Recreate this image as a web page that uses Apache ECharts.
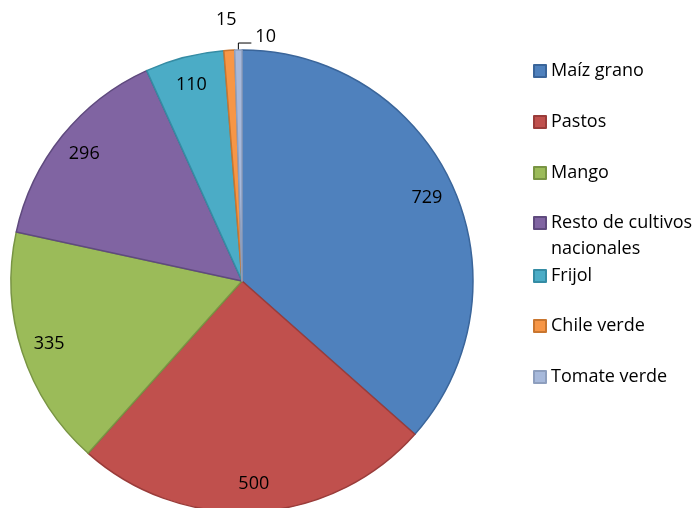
<!DOCTYPE html>
<html>
<head>
<meta charset="utf-8">
<script src="https://cdn.jsdelivr.net/npm/echarts@6/dist/echarts.min.js"></script>
<style>
  html, body { margin: 0; padding: 0; background: #fff; }
  #pie { width: 696px; height: 508px; }
</style>
</head>
<body>
<div id="pie"></div>
<script>
// datos del gráfico
const categories = ['Maíz grano', 'Pastos', 'Mango', 'Resto de cultivos nacionales', 'Frijol', 'Chile verde', 'Tomate verde'];
const values = [729, 500, 335, 296, 110, 15, 10];

// colores de relleno y borde de cada rebanada
const fills = ['#4F81BD', '#C0504D', '#9BBB59', '#8064A2', '#4BACC6', '#F79646', '#A7B9DB'];
const edges = ['#3A659A', '#9A3C3A', '#789443', '#5F4A7E', '#358CA4', '#C9762F', '#8E9FBE'];

// centro vertical de cada entrada de la leyenda
const legendCenters = [71, 122, 173, 223, 276, 326, 377];

const font = '"Open Sans", "Noto Sans", sans-serif';
const cx = 242, cy = 281, r = 231;

const chart = echarts.init(document.getElementById('pie'));

const legends = categories.map(function (name, i) {
  const twoLines = name.indexOf('Resto') === 0;
  return {
    data: [name],
    orient: 'vertical',
    left: 533,
    top: twoLines ? legendCenters[i] - 39 : legendCenters[i] - 13,
    padding: 0,
    icon: 'rect',
    itemWidth: 12,
    itemHeight: 12,
    itemGap: 0,
    selectedMode: false,
    // línea vacía arriba para que el icono quede junto a la primera línea
    formatter: function (n) { return n === 'Resto de cultivos nacionales' ? ' \nResto de cultivos\nnacionales' : n; },
    textStyle: {
      color: '#000',
      fontFamily: font,
      fontSize: 18,
      lineHeight: 26
    }
  };
});

const option = {
  animation: false,
  legend: legends,
  series: [
    {
      type: 'pie',
      center: [cx, cy],
      radius: r,
      startAngle: 90,
      clockwise: true,
      silent: true,
      label: { show: false },
      labelLine: { show: false },
      data: categories.map(function (name, i) {
        return {
          name: name,
          value: values[i],
          itemStyle: { color: fills[i], borderColor: edges[i], borderWidth: 1.5 }
        };
      })
    },
    {
      // anillo transparente solo para colocar las etiquetas cerca del borde
      type: 'pie',
      center: [cx, cy],
      radius: [r * 0.73, r],
      startAngle: 90,
      clockwise: true,
      silent: true,
      legendHoverLink: false,
      itemStyle: { color: 'rgba(0,0,0,0)', borderWidth: 0 },
      label: {
        show: true,
        position: 'inside',
        formatter: '{c}',
        color: '#000',
        fontFamily: font,
        fontSize: 18
      },
      labelLine: { show: false },
      labelLayout: function (p) {
        const pts = p.labelLinePoints;
        if (!pts) return {};
        const a = pts[0];
        if (p.dataIndex === 5) {
          return { x: a[0] - 3, y: a[1] - 30, align: 'center', verticalAlign: 'middle' };
        }
        if (p.dataIndex === 6) {
          return {
            x: a[0] + 17, y: a[1] - 13, align: 'left', verticalAlign: 'middle',
            labelLinePoints: [a, [a[0], a[1] - 7], [a[0] + 13, a[1] - 7]]
          };
        }
        return {};
      },
      data: categories.map(function (name, i) {
        const item = { name: name + ' ', value: values[i] };
        if (i >= 5) {
          item.label = { position: 'outside' };
          item.labelLine = {
            show: true, length: 10, length2: 5,
            lineStyle: { color: '#000', width: 1, opacity: i === 5 ? 0 : 1 }
          };
        }
        return item;
      })
    }
  ]
};

chart.setOption(option);
</script>
</body>
</html>
